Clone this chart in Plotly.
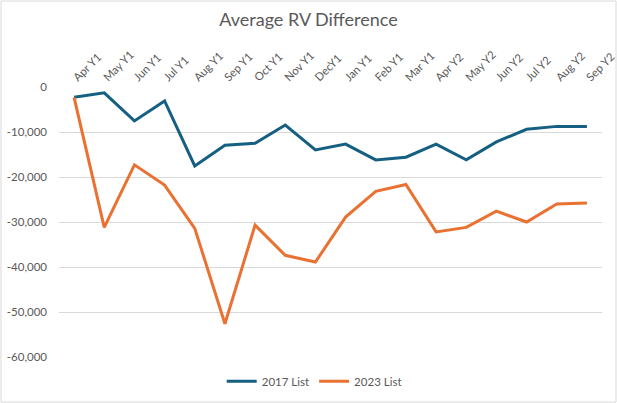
import plotly.graph_objects as go

# --- data ---
months = [
    "Apr Y1", "May Y1", "Jun Y1", "Jul Y1", "Aug Y1", "Sep Y1", "Oct Y1",
    "Nov Y1", "DecY1", "Jan Y1", "Feb Y1", "Mar Y1", "Apr Y2", "May Y2",
    "Jun Y2", "Jul Y2", "Aug Y2", "Sep Y2",
]
list_2017 = [
    -2300, -1300, -7550, -3100, -17550, -12950, -12500, -8450, -14000,
    -12700, -16200, -15600, -12700, -16200, -12200, -9400, -8750, -8750,
]
list_2023 = [
    -2300, -31200, -17300, -21800, -31400, -52600, -30700, -37400, -38900,
    -28900, -23200, -21650, -32200, -31200, -27600, -30000, -26000, -25800,
]
y_tickvals = [0, -10000, -20000, -30000, -40000, -50000, -60000]
y_ticktext = ["0", "-10,000", "-20,000", "-30,000", "-40,000", "-50,000", "-60,000"]

BLUE = "#156082"
ORANGE = "#E97132"
GREY_TEXT = "#595959"
GRID = "#D9D9D9"
FONT = "Lato, Liberation Sans, sans-serif"

fig = go.Figure()
fig.add_trace(go.Scatter(
    x=months, y=list_2017, name="2017 List", mode="lines",
    line={"color": BLUE, "width": 3},
))
fig.add_trace(go.Scatter(
    x=months, y=list_2023, name="2023 List", mode="lines",
    line={"color": ORANGE, "width": 3},
))

fig.update_xaxes(
    type="category",
    side="top",
    tickangle=-45,
    range=[-0.5, len(months) - 0.5],
    automargin=False,
    showgrid=False,
    showline=False,
    ticks="",
    tickfont={"size": 11.3, "color": GREY_TEXT, "family": FONT},
)
fig.update_yaxes(
    range=[-60000, 0],
    tickvals=y_tickvals,
    ticktext=y_ticktext,
    automargin=False,
    showgrid=True,
    gridcolor=GRID,
    gridwidth=1,
    zeroline=False,
    showline=False,
    ticks="",
    ticklabelstandoff=11,
    tickfont={"size": 11.5, "color": GREY_TEXT, "family": FONT},
)

fig.update_layout(
    width=617,
    height=403,
    margin={"l": 59, "r": 15, "t": 87, "b": 46, "autoexpand": False},
    plot_bgcolor="white",
    paper_bgcolor="white",
    font={"family": FONT, "color": GREY_TEXT},
    title={
        "text": "Average RV Difference",
        "x": 0.5, "xanchor": "center",
        "y": 0.95, "yanchor": "middle",
        "font": {"size": 18, "color": GREY_TEXT, "family": FONT},
    },
    legend={
        "orientation": "h",
        "x": 0.47, "xanchor": "center",
        "y": -0.09, "yanchor": "middle",
        "font": {"size": 11.5, "color": GREY_TEXT, "family": FONT},
        "itemwidth": 30,
    },
    showlegend=True,
)

# light frame around the whole chart area, as in the spreadsheet export
fig.add_shape(
    type="rect", xref="paper", yref="paper",
    x0=-58 / 543, x1=(616 - 59) / 543,
    y0=-45 / 270, y1=1 + 86 / 270,
    line={"color": GRID, "width": 1},
    layer="below",
)

# drop the browser's default body margin so the chart sits at the page corner
fig.write_html(
    "out.html",
    config={"displayModeBar": False},
    post_script="document.body.style.margin='0';document.body.style.overflow='hidden';",
)
